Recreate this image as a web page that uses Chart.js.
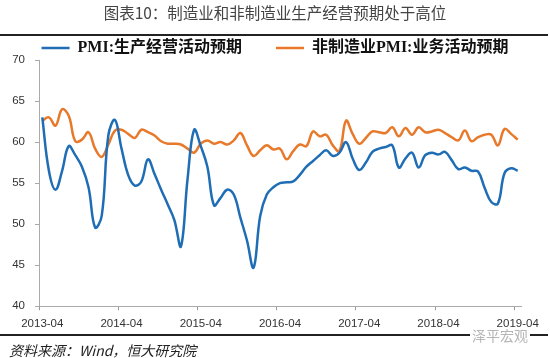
<!DOCTYPE html>
<html>
<head>
<meta charset="utf-8">
<script src="https://cdn.jsdelivr.net/npm/chart.js@4.4.0/dist/chart.umd.min.js"></script>
<style>
  body { margin: 0; background: #fff; }
  #wrap { position: relative; width: 550px; height: 358px; overflow: hidden; }
  #myChart { position: absolute; left: 0; top: 0; }
  .title { position: absolute; left: 0; top: 3px; width: 550px; text-align: center;
    font: 15.5px 'Noto Sans CJK SC', sans-serif; color: #444; line-height: 18px; }
  .rule { position: absolute; left: 0; width: 548px; height: 2px; background: #222; }
  .source { position: absolute; left: 9px; top: 341px; font: italic 14px 'Noto Sans CJK SC', sans-serif;
    color: #222; line-height: 18px; }
  .mark { position: absolute; left: 470px; top: 329px; font: 14px 'Noto Sans CJK SC', sans-serif;
    color: #b5b5b5; background: #fff; padding: 0 2px; line-height: 13px; }
</style>
</head>
<body>
<div id="wrap">
  <canvas id="myChart" width="550" height="358"></canvas>
  <div class="title">图表10：制造业和非制造业生产经营预期处于高位</div>
  <div class="rule" style="top:34px"></div>
  <div class="rule" style="top:334px"></div>
  <div class="source">资料来源：Wind，恒大研究院</div>
  <div class="mark">泽平宏观</div>
</div>
<script>
// monthly, 2013-04 .. 2019-04
var months = [];
var y, m;
for (y = 2013; y <= 2019; y++) {
  for (m = 1; m <= 12; m++) {
    if ((y === 2013 && m < 4) || (y === 2019 && m > 4)) continue;
    months.push(y + "-" + (m < 10 ? "0" + m : m));
  }
}

var tickLabels = ["2013-04","2014-04","2015-04","2016-04","2017-04","2018-04","2019-04"];

var pmiExpect = [
  63.0,56.5,54.2,56.5,59.5,58.4,57.0,54.5,49.6,51.0,60.8,62.7,
  59.2,56.0,54.7,55.2,57.9,56.1,54.2,52.4,50.5,47.3,55.5,61.5,
  59.5,57.0,52.3,53.2,54.2,53.6,50.8,48.0,44.7,51.0,53.6,54.5,
  55.0,55.1,55.2,56.0,57.0,57.7,58.4,59.0,58.3,58.7,60.0,58.0,
  56.6,57.5,58.8,59.2,59.4,59.6,56.9,58.0,58.7,56.9,58.4,58.7,
  58.5,58.8,57.8,56.7,56.9,56.5,56.4,54.4,52.7,52.5,56.2,56.8,
  56.5
];

var nonMfgExpect = [
  62.6,63.0,62.0,64.0,63.2,60.1,60.3,61.2,59.2,58.2,59.7,61.4,
  61.5,61.0,60.5,61.5,61.2,60.8,60.1,59.8,59.8,59.7,59.2,58.7,
  59.8,60.2,59.8,60.0,59.7,60.2,61.1,59.6,58.3,59.0,59.6,59.1,
  59.2,57.9,58.9,59.7,59.5,61.3,60.7,60.9,59.6,58.9,62.6,61.0,
  59.8,60.5,61.3,61.2,61.1,61.8,60.7,61.7,60.9,61.8,61.2,61.3,
  61.5,61.1,60.6,60.2,61.4,60.1,60.6,60.9,60.9,59.6,61.6,61.0,
  60.3
];

var legendFont = { family: "'Liberation Serif', 'Noto Sans CJK SC'", size: 16, weight: "bold" };
var tickFont = { family: "'Liberation Sans', 'DejaVu Sans'", size: 11.5 };

// legend is tall because of the wide item padding, trim it a bit
var legendTrim = {
  id: "legendTrim",
  beforeInit: function (chart) {
    var fitValue = chart.legend.fit;
    chart.legend.fit = function fit() {
      fitValue.bind(chart.legend)();
      this.height -= 6;
    };
  }
};

var ctx = document.getElementById("myChart").getContext("2d");

var lineChart = new Chart(ctx, {
  type: "line",
  data: {
    labels: months,
    datasets: [
      {
        label: "PMI:生产经营活动预期",
        data: pmiExpect,
        borderColor: "#1f6db5",
        backgroundColor: "#1f6db5",
        borderWidth: 2.5,
        pointRadius: 0,
        pointStyle: "line",
        tension: 0.4,
        fill: false
      },
      {
        label: "非制造业PMI:业务活动预期",
        data: nonMfgExpect,
        borderColor: "#e8792a",
        backgroundColor: "#e8792a",
        borderWidth: 2.5,
        pointRadius: 0,
        pointStyle: "line",
        tension: 0.4,
        fill: false
      }
    ]
  },
  plugins: [legendTrim],
  options: {
    responsive: false,
    animation: false,
    devicePixelRatio: 1,
    layout: { padding: { top: 6, left: 0, right: 0, bottom: 20 } },
    plugins: {
      legend: {
        position: "top",
        labels: {
          font: legendFont,
          color: "#111",
          usePointStyle: true,
          pointStyleWidth: 28,
          padding: 34
        }
      },
      tooltip: { enabled: false }
    },
    scales: {
      x: {
        type: "category",
        offset: true,
        afterFit: function (s) { s.paddingRight = 29; },
        grid: {
          offset: true,
          drawOnChartArea: false,
          tickLength: 4,
          color: function (c) {
            return (c.index !== undefined && c.index % 12 === 0) ? "#999" : "rgba(0,0,0,0)";
          }
        },
        border: { color: "#aaa" },
        ticks: {
          autoSkip: false,
          maxRotation: 0,
          padding: 7,
          font: tickFont,
          color: "#333",
          callback: function (v, i) {
            return i % 12 === 0 ? tickLabels[i / 12] : "";
          }
        }
      },
      y: {
        min: 40,
        max: 70,
        afterFit: function (s) { s.width = 39; },
        ticks: { stepSize: 5, font: tickFont, color: "#333", padding: 10 },
        grid: { drawOnChartArea: false, tickLength: 4, color: "#aaa" },
        border: { color: "#aaa" }
      }
    }
  }
});
</script>
</body>
</html>
